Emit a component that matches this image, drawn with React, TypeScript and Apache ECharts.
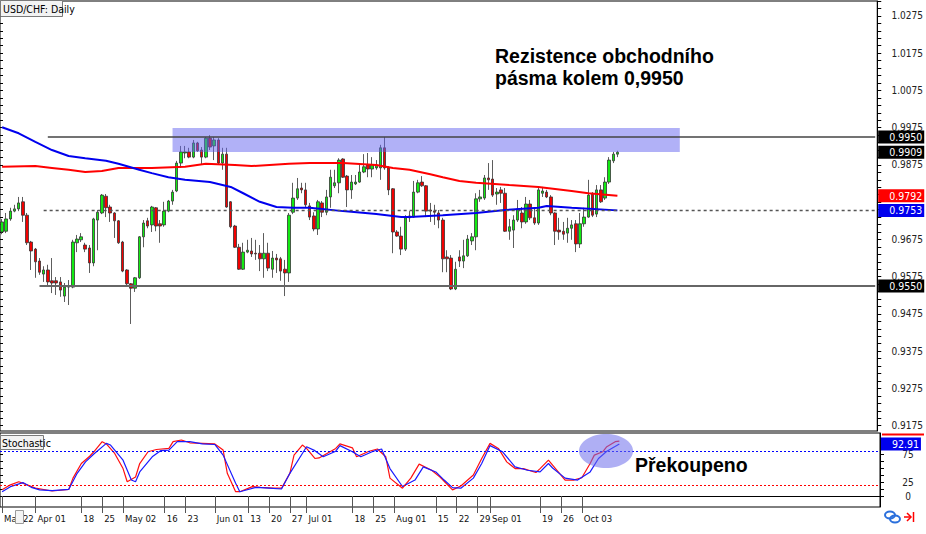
import React, { useEffect, useRef } from "react";
import * as echarts from "echarts";

// ---------- DATA ----------
const firstTradingDay = "2016-03-22";
const slotCount = 211; // trading-day slots visible on the x axis (incl. empty future space)

// [open, high, low, close]
const candles: [number, number, number, number][] = [
  [0.9695, 0.973, 0.9689, 0.9722], [0.9697, 0.9746, 0.9692, 0.973], [0.973, 0.976, 0.9725, 0.9751],
  [0.9751, 0.9768, 0.9748, 0.9757], [0.9757, 0.9789, 0.9751, 0.9773], [0.9776, 0.9789, 0.9722, 0.974],
  [0.974, 0.9746, 0.966, 0.9666], [0.9668, 0.9671, 0.9593, 0.9644], [0.9649, 0.9652, 0.9572, 0.9615],
  [0.9617, 0.9625, 0.958, 0.9587], [0.9582, 0.9603, 0.9561, 0.9593], [0.9593, 0.9607, 0.955, 0.9561],
  [0.9564, 0.9625, 0.9531, 0.9558], [0.9564, 0.9574, 0.9526, 0.9558], [0.9561, 0.9574, 0.9521, 0.9539],
  [0.9523, 0.9558, 0.9507, 0.9547], [0.9547, 0.9566, 0.9499, 0.955], [0.9547, 0.9674, 0.9544, 0.9668],
  [0.9666, 0.9687, 0.9641, 0.9676], [0.9674, 0.9692, 0.9668, 0.9682], [0.966, 0.9666, 0.9641, 0.9649],
  [0.9652, 0.966, 0.9585, 0.9612], [0.9612, 0.9733, 0.9603, 0.973], [0.9727, 0.9754, 0.9646, 0.9748],
  [0.9746, 0.9797, 0.9743, 0.9794], [0.9791, 0.9797, 0.9735, 0.976], [0.9762, 0.9768, 0.9722, 0.9746],
  [0.9746, 0.9748, 0.9679, 0.9725], [0.9725, 0.9727, 0.9663, 0.9666], [0.9668, 0.9671, 0.9587, 0.959],
  [0.9593, 0.9595, 0.9552, 0.9556], [0.9556, 0.9558, 0.9448, 0.9544], [0.9544, 0.9574, 0.9534, 0.9572],
  [0.9572, 0.9684, 0.9569, 0.9682], [0.9682, 0.9727, 0.9654, 0.9719], [0.9725, 0.9733, 0.9705, 0.9711],
  [0.9714, 0.9765, 0.9695, 0.9762], [0.976, 0.9762, 0.9697, 0.9711], [0.9717, 0.9727, 0.9666, 0.9711],
  [0.9714, 0.9776, 0.9709, 0.9751], [0.9751, 0.9781, 0.9748, 0.9778], [0.9778, 0.9808, 0.9768, 0.9802],
  [0.9805, 0.9886, 0.9802, 0.988], [0.988, 0.9926, 0.9867, 0.991], [0.9907, 0.9926, 0.9893, 0.991],
  [0.991, 0.9921, 0.9893, 0.9896], [0.9896, 0.9942, 0.9893, 0.9934], [0.9934, 0.9937, 0.991, 0.9913],
  [0.9915, 0.9923, 0.9875, 0.9896], [0.9896, 0.995, 0.9893, 0.9947], [0.9947, 0.9955, 0.9915, 0.9923],
  [0.9926, 0.995, 0.9888, 0.9942], [0.9942, 0.9947, 0.9875, 0.988], [0.988, 0.9921, 0.9862, 0.9904],
  [0.9904, 0.9921, 0.976, 0.9762], [0.9776, 0.9778, 0.9705, 0.9709], [0.9711, 0.9714, 0.9652, 0.9654],
  [0.9654, 0.9663, 0.9593, 0.9595], [0.9595, 0.9666, 0.9593, 0.9641], [0.9641, 0.9674, 0.9638, 0.9646],
  [0.9644, 0.9679, 0.9628, 0.9636], [0.9638, 0.9674, 0.962, 0.9636], [0.9638, 0.966, 0.959, 0.9623],
  [0.9623, 0.9692, 0.9572, 0.9638], [0.9638, 0.9666, 0.959, 0.9598], [0.9595, 0.9644, 0.9572, 0.9625],
  [0.9625, 0.9636, 0.9585, 0.962], [0.9623, 0.9628, 0.9564, 0.959], [0.9595, 0.962, 0.9523, 0.9585],
  [0.9585, 0.9746, 0.9561, 0.974], [0.9748, 0.9827, 0.9743, 0.9786], [0.9786, 0.984, 0.9781, 0.9811],
  [0.9813, 0.9827, 0.9799, 0.9808], [0.9808, 0.9827, 0.9762, 0.9768], [0.9765, 0.9773, 0.9727, 0.9735],
  [0.9738, 0.9748, 0.9697, 0.9703], [0.9703, 0.9781, 0.9687, 0.9776], [0.9773, 0.9778, 0.9735, 0.9748],
  [0.9748, 0.9808, 0.974, 0.9789], [0.9789, 0.9862, 0.976, 0.9842], [0.9819, 0.9862, 0.9813, 0.9827],
  [0.9827, 0.9893, 0.9799, 0.9888], [0.9891, 0.9893, 0.984, 0.9842], [0.9845, 0.9848, 0.9762, 0.9808],
  [0.9808, 0.9848, 0.9784, 0.9829], [0.9824, 0.9848, 0.9821, 0.9829], [0.9829, 0.9875, 0.9827, 0.9856],
  [0.9856, 0.9904, 0.9853, 0.987], [0.9875, 0.9907, 0.9842, 0.9864], [0.9864, 0.9896, 0.9842, 0.9875],
  [0.9867, 0.9888, 0.9862, 0.9875], [0.9867, 0.9929, 0.9835, 0.9921], [0.9921, 0.995, 0.9862, 0.9867],
  [0.9867, 0.9872, 0.9794, 0.9808], [0.9811, 0.9813, 0.9638, 0.9695], [0.9695, 0.97, 0.9682, 0.9684],
  [0.9684, 0.9709, 0.9633, 0.9649], [0.9649, 0.974, 0.9644, 0.9733], [0.9733, 0.9751, 0.9722, 0.9738],
  [0.9735, 0.9832, 0.9733, 0.9802], [0.9802, 0.9835, 0.9799, 0.9827], [0.9829, 0.9845, 0.9816, 0.9819],
  [0.9819, 0.9821, 0.9735, 0.9751], [0.9754, 0.9773, 0.9722, 0.9751], [0.9751, 0.9768, 0.9714, 0.9748],
  [0.9746, 0.9754, 0.9705, 0.9727], [0.9727, 0.9733, 0.9587, 0.9623], [0.9628, 0.9646, 0.9587, 0.9623],
  [0.9625, 0.9633, 0.9539, 0.9542], [0.9542, 0.9615, 0.9539, 0.9595], [0.9628, 0.9646, 0.9601, 0.9617],
  [0.9617, 0.9674, 0.9598, 0.9631], [0.9631, 0.9687, 0.9628, 0.9676], [0.9671, 0.9692, 0.966, 0.9682],
  [0.9682, 0.9799, 0.9646, 0.9784], [0.9784, 0.9808, 0.9776, 0.9789], [0.9786, 0.9848, 0.9781, 0.984],
  [0.984, 0.988, 0.9808, 0.9835], [0.9837, 0.9888, 0.9789, 0.9794], [0.9797, 0.9813, 0.9768, 0.9802],
  [0.9808, 0.9816, 0.9773, 0.9799], [0.9799, 0.9813, 0.9695, 0.9697], [0.9697, 0.973, 0.9674, 0.9709],
  [0.97, 0.974, 0.9652, 0.9727], [0.9727, 0.9781, 0.9722, 0.9757], [0.9746, 0.9762, 0.9705, 0.9722],
  [0.9722, 0.9789, 0.9717, 0.977], [0.977, 0.9781, 0.9727, 0.9733], [0.9733, 0.9762, 0.9714, 0.9719],
  [0.9719, 0.9816, 0.9714, 0.9808], [0.9799, 0.9816, 0.9789, 0.9805], [0.9802, 0.9808, 0.9786, 0.9789],
  [0.9789, 0.9794, 0.974, 0.9746], [0.9746, 0.9748, 0.966, 0.9697], [0.97, 0.9733, 0.9674, 0.9695],
  [0.9697, 0.9722, 0.9674, 0.9689], [0.9692, 0.9733, 0.9666, 0.9705], [0.9705, 0.9727, 0.9674, 0.9714],
  [0.9717, 0.9727, 0.9641, 0.9663], [0.9663, 0.9746, 0.9652, 0.9717], [0.9717, 0.976, 0.9709, 0.9735],
  [0.9735, 0.9835, 0.9733, 0.9794], [0.9797, 0.9802, 0.9735, 0.974], [0.9743, 0.9821, 0.9735, 0.9808],
  [0.9808, 0.9821, 0.9773, 0.9776], [0.9786, 0.9842, 0.9781, 0.9829], [0.9829, 0.9896, 0.9824, 0.9888],
  [0.9886, 0.991, 0.988, 0.9904], [0.9904, 0.9913, 0.9896, 0.9909],
];

// moving averages, read at sampled bars: [barIndex, value]
const redMA: [number, number][] = [
  [0, 0.987], [8, 0.9872], [12, 0.9867], [16, 0.9862], [20, 0.9856], [24, 0.9859], [28, 0.9867],
  [36, 0.9867], [44, 0.987], [49, 0.9878], [56, 0.9875], [60, 0.9872], [69, 0.9878], [74, 0.988],
  [82, 0.988], [90, 0.9875], [94, 0.9867], [98, 0.9862], [103, 0.985], [106, 0.9842], [110, 0.9832],
  [114, 0.9827], [122, 0.9821], [129, 0.9816], [137, 0.9805], [141, 0.9799], [148, 0.9792],
];
const blueMA: [number, number][] = [
  [0, 0.9976], [4, 0.996], [8, 0.9937], [12, 0.9915], [16, 0.9899], [20, 0.9893], [25, 0.9886],
  [28, 0.9878], [33, 0.9862], [36, 0.9853], [40, 0.9842], [44, 0.9835], [50, 0.9829], [55, 0.9816],
  [58, 0.9799], [62, 0.9776], [66, 0.9762], [70, 0.976], [74, 0.976], [82, 0.9751], [90, 0.9743],
  [96, 0.9735], [98, 0.9735], [106, 0.974], [114, 0.9746], [121, 0.9754], [129, 0.976], [131, 0.9765],
  [137, 0.976], [148, 0.9753],
];

// stochastic oscillator, read at sampled bars: [barIndex, value]
const stochMain: [number, number][] = [
  [0, 11], [2, 20], [4, 25.5], [6, 20], [8, 14], [12, 9], [16, 12], [17, 32], [19, 58], [21, 71],
  [22, 79], [24, 97], [25, 93], [27, 76], [29, 49], [30, 25.5], [32, 34], [33, 58], [35, 79], [37, 83],
  [40, 85], [41, 97], [43, 100], [45, 95], [48, 94], [51, 93], [53, 82], [54, 40.5], [56, 7.7], [57, 7.7],
  [60, 16.7], [62, 15.5], [65, 14], [67, 14], [69, 40.5], [70, 73], [72, 91], [73, 85], [75, 67], [76, 68],
  [80, 85], [81, 93], [84, 86], [85, 70], [88, 80], [90, 84], [92, 70], [93, 32], [96, 14], [98, 32],
  [100, 57], [103, 46], [105, 34], [108, 11], [110, 18], [113, 37.5], [115, 67], [117, 94], [119, 85],
  [121, 61], [123, 49], [125, 49], [128, 42], [129, 49], [131, 64], [132, 55], [135, 28.5], [137, 28.5],
  [139, 32.7], [141, 58], [142, 73], [144, 79], [145, 88], [147, 97], [148, 98],
];
const stochSignal: [number, number][] = [
  [0, 7.7], [2, 16.7], [5, 24], [7, 15.5], [9, 11], [12, 9.5], [16, 12], [18, 40.5], [20, 61], [22, 75],
  [25, 94], [26, 91], [29, 64], [31, 28.5], [32, 25.5], [33, 43], [36, 70], [38, 81], [40, 82], [42, 97],
  [45, 97], [48, 93], [51, 92], [53, 73], [56, 22.7], [57, 7.7], [61, 15.5], [64, 14], [67, 12.5],
  [69, 40.5], [72, 76], [73, 88], [75, 81], [77, 70], [80, 80], [81, 90], [84, 79], [86, 70], [89, 80],
  [91, 84], [93, 49], [96, 17], [99, 28.5], [101, 52], [104, 43], [106, 28.5], [108, 15], [110, 14],
  [113, 32], [115, 58], [117, 90], [120, 79], [123, 52], [126, 46], [129, 43], [131, 58], [132, 50],
  [135, 32], [138, 28.5], [141, 43], [143, 67], [145, 80], [148, 92.91],
];

// visible right-axis price labels (0.9775 is fully covered by the MA boxes in the original)
const priceTicks = [0.9175, 0.9275, 0.9375, 0.9475, 0.9575, 0.9675, 0.9875, 0.9975, 1.0075, 1.0175, 1.0275];
const stochLabelTicks = [0, 25, 75];
const stochMinorTicks = [0, 12.5, 25, 37.5, 50, 62.5, 75, 87.5, 100];
const stochLevels = { upper: 80, lower: 20 };

const dateTicks: [string, string][] = [
  ["2016-03-22", "Mar 22"], ["2016-04-01", "Apr 01"], ["2016-04-18", "18"], ["2016-04-25", "25"],
  ["2016-05-02", "May 02"], ["2016-05-16", "16"], ["2016-05-23", "23"], ["2016-06-01", "Jun 01"],
  ["2016-06-13", "13"], ["2016-06-20", "20"], ["2016-06-27", "27"], ["2016-07-01", "Jul 01"],
  ["2016-07-18", "18"], ["2016-07-25", "25"], ["2016-08-01", "Aug 01"], ["2016-08-15", "15"],
  ["2016-08-22", "22"], ["2016-08-29", "29"], ["2016-09-01", "Sep 01"], ["2016-09-19", "19"],
  ["2016-09-26", "26"], ["2016-10-03", "Oct 03"],
];

const resistanceLevel = 0.995;
const supportLevel = 0.955;
const dottedLevel = 0.9753;
const lastPrice = 0.9909;
const redMALast = 0.9792;
const blueMALast = 0.9753;
const zoneTop = 0.9974;
const zoneBottom = 0.991;
const zoneStartBar = 41;
const zoneEndBar = 163;
const resistanceStartBar = 11;
const supportStartBar = 9;
const dottedStartBar = 10;
const stochSignalLast = 92.91;

const annotationTitle = ["Rezistence obchodního", "pásma kolem 0,9950"];
const annotationStoch = "Překoupeno";

// ---------- HELPERS ----------
function tradingDays(start: string, n: number): string[] {
  const out: string[] = [];
  const d = new Date(start + "T00:00:00Z");
  while (out.length < n) {
    const wd = d.getUTCDay();
    if (wd !== 0 && wd !== 6) out.push(d.toISOString().slice(0, 10));
    d.setUTCDate(d.getUTCDate() + 1);
  }
  return out;
}

const FONT = "'Liberation Sans Narrow', 'DejaVu Sans Condensed', 'Liberation Sans', Arial, sans-serif";
const BOLD_FONT = "'Liberation Sans', Arial, sans-serif";
const PRICE_MIN = 0.91607;
const PRICE_MAX = 1.03151;

function buildOption() {
  const dates = tradingDays(firstTradingDay, slotCount);
  const labelMap: Record<string, string> = {};
  dateTicks.forEach(([d, l]) => (labelMap[d] = l));
  const showTick = (_i: number, v: string) => labelMap[v] !== undefined;

  const minorPriceTicks: number[] = [];
  for (let k = 0; k <= 57; k++) minorPriceTicks.push(+(0.9175 + k * 0.002).toFixed(4));

  const lastBar = slotCount - 1;

  const boxLabel = (text: string, bg: string) => ({
    show: true,
    position: "end" as const,
    distance: 3,
    formatter: text,
    color: "#fff",
    backgroundColor: bg,
    padding: [1, 2, 1, 11],
    fontSize: 10.5,
    lineHeight: 11,
    fontFamily: FONT,
  });

  const hiddenLine = { color: "rgba(0,0,0,0)", width: 0 };

  return {
    animation: false,
    backgroundColor: "#ffffff",
    grid: [
      { left: 0, right: 46, top: 1, height: 430, show: true, borderColor: "#000", borderWidth: 1, backgroundColor: "transparent" },
      { left: 0, right: 46, top: 433, height: 74, show: true, borderColor: "#000", borderWidth: 1, backgroundColor: "transparent" },
    ],
    xAxis: [
      {
        type: "category", gridIndex: 0, data: dates, boundaryGap: true,
        axisLine: { show: false }, axisTick: { show: false }, axisLabel: { show: false }, splitLine: { show: false },
      },
      {
        type: "category", gridIndex: 1, data: dates, boundaryGap: true,
        axisLine: { show: true, lineStyle: { color: "#000", width: 1 } },
        axisTick: { show: true, alignWithLabel: true, interval: showTick, length: 17, lineStyle: { color: "#555" } },
        axisLabel: {
          show: true, interval: showTick, formatter: (v: string) => labelMap[v] || "",
          align: "left", padding: [0, 0, 0, 2], margin: 6, fontSize: 9.5, color: "#111", fontFamily: FONT,
        },
        splitLine: { show: false },
      },
    ],
    yAxis: [
      {
        type: "value", gridIndex: 0, position: "right", min: PRICE_MIN, max: PRICE_MAX,
        axisLine: { show: true, lineStyle: { color: "#000" } },
        axisTick: { show: true, length: 4, lineStyle: { color: "#000" }, customValues: minorPriceTicks },
        axisLabel: {
          show: true, customValues: priceTicks, formatter: (v: number) => v.toFixed(4),
          margin: 30, align: "center", fontSize: 10, color: "#222", fontFamily: FONT,
        },
        splitLine: { show: false },
      },
      {
        type: "value", gridIndex: 0, position: "left", min: PRICE_MIN, max: PRICE_MAX,
        axisLine: { show: false },
        axisTick: { show: true, inside: true, length: 3, lineStyle: { color: "#000" }, customValues: minorPriceTicks },
        axisLabel: { show: false },
        splitLine: { show: false },
      },
      {
        type: "value", gridIndex: 1, position: "right", min: -19.6, max: 112.5,
        axisLine: { show: true, lineStyle: { color: "#000" } },
        axisTick: { show: true, length: 4, lineStyle: { color: "#000" }, customValues: stochMinorTicks },
        axisLabel: {
          show: true, customValues: stochLabelTicks, formatter: (v: number) => String(v),
          margin: 28, align: "center", fontSize: 10, color: "#222", fontFamily: FONT,
        },
        splitLine: { show: false },
      },
      {
        type: "value", gridIndex: 1, position: "left", min: -19.6, max: 112.5,
        axisLine: { show: false },
        axisTick: { show: true, inside: true, length: 3, lineStyle: { color: "#000" }, customValues: stochMinorTicks },
        axisLabel: { show: false },
        splitLine: { show: false },
      },
    ],
    series: [
      {
        name: "USD/CHF",
        type: "candlestick",
        xAxisIndex: 0, yAxisIndex: 0,
        data: candles.map(([o, h, l, c]) => [o, c, l, h]),
        barWidth: 3,
        z: 3,
        itemStyle: {
          color: "#12ea12", color0: "#f20000",
          borderColor: "#333", borderColor0: "#333", borderWidth: 0.8,
        },
      },
      {
        name: "MA red", type: "line", xAxisIndex: 0, yAxisIndex: 0, data: redMA,
        showSymbol: false, symbol: "none", z: 4, lineStyle: { color: "#ff0000", width: 2 },
      },
      {
        name: "MA blue", type: "line", xAxisIndex: 0, yAxisIndex: 0, data: blueMA,
        showSymbol: false, symbol: "none", z: 4, lineStyle: { color: "#0000ee", width: 2 },
      },
      {
        name: "levels", type: "line", xAxisIndex: 0, yAxisIndex: 0, data: [], z: 6,
        markArea: {
          silent: true, z: 10,
          itemStyle: { color: "rgba(100,100,240,0.5)", borderWidth: 0 },
          label: { show: false },
          data: [[{ coord: [zoneStartBar, zoneTop] }, { coord: [zoneEndBar, zoneBottom] }]],
        },
        markLine: {
          silent: true, symbol: ["none", "none"], z: 11,
          data: [
            [
              { coord: [resistanceStartBar, resistanceLevel], lineStyle: { color: "#444", width: 1.5, type: "solid" }, label: boxLabel("0.9950", "#000") },
              { coord: [lastBar, resistanceLevel] },
            ],
            [
              { coord: [supportStartBar, supportLevel], lineStyle: { color: "#666", width: 2, type: "solid" }, label: boxLabel("0.9550", "#000") },
              { coord: [lastBar, supportLevel] },
            ],
            [
              { coord: [lastBar - 1, lastPrice], lineStyle: hiddenLine, label: boxLabel("0.9909", "#000") },
              { coord: [lastBar, lastPrice] },
            ],
            [
              { coord: [lastBar - 1, redMALast], lineStyle: hiddenLine, label: boxLabel("0.9792", "#ff0000") },
              { coord: [lastBar, redMALast] },
            ],
            [
              { coord: [dottedStartBar, dottedLevel], lineStyle: { color: "#555", width: 1.3, type: [3, 3] }, label: boxLabel(blueMALast.toFixed(4), "#0000ee") },
              { coord: [lastBar, dottedLevel] },
            ],
          ],
        },
      },
      {
        name: "Stoch main", type: "line", xAxisIndex: 1, yAxisIndex: 2, data: stochMain,
        showSymbol: false, symbol: "none", z: 4, lineStyle: { color: "#ff1010", width: 1.2 },
      },
      {
        name: "Stoch signal", type: "line", xAxisIndex: 1, yAxisIndex: 2, data: stochSignal,
        showSymbol: false, symbol: "none", z: 5, lineStyle: { color: "#1a1aff", width: 1.2 },
        markLine: {
          silent: true, symbol: ["none", "none"], z: 6,
          data: [
            { yAxis: stochLevels.upper, lineStyle: { color: "#0000ff", width: 1, type: [2, 2] }, label: { show: false } },
            { yAxis: stochLevels.lower, lineStyle: { color: "#ff0000", width: 1, type: [2, 2] }, label: { show: false } },
            [
              { coord: [lastBar - 1, stochSignalLast], lineStyle: hiddenLine, label: boxLabel(stochSignalLast.toFixed(2), "#0000ee") },
              { coord: [lastBar, stochSignalLast] },
            ],
          ],
        },
      },
    ],
    graphic: [
      {
        type: "rect", z: 100, shape: { x: 0.5, y: 0.5, width: 62, height: 16 },
        style: { fill: "#f3f3f3", stroke: "#7a7a7a", lineWidth: 1 },
      },
      {
        type: "text", z: 101, x: 3, y: 9,
        style: { text: "USD/CHF: Daily", fontSize: 10.5, fontFamily: FONT, fill: "#000", verticalAlign: "middle" },
      },
      {
        type: "rect", z: 100, shape: { x: 0.5, y: 435.5, width: 43, height: 14 },
        style: { fill: "#f3f3f3", stroke: "#7a7a7a", lineWidth: 1 },
      },
      {
        type: "text", z: 101, x: 2, y: 443,
        style: { text: "Stochastic", fontSize: 10.5, fontFamily: FONT, fill: "#000", verticalAlign: "middle" },
      },
      {
        type: "text", z: 101, x: 495, y: 56,
        style: { text: annotationTitle[0], fontSize: 19.5, fontWeight: "bold", fontFamily: BOLD_FONT, fill: "#000", verticalAlign: "middle" },
      },
      {
        type: "text", z: 101, x: 495, y: 78,
        style: { text: annotationTitle[1], fontSize: 19.5, fontWeight: "bold", fontFamily: BOLD_FONT, fill: "#000", verticalAlign: "middle" },
      },
      {
        type: "ellipse", z: 100, shape: { cx: 606, cy: 451, rx: 27, ry: 17 },
        style: { fill: "rgba(110,110,235,0.55)" },
      },
      {
        type: "text", z: 101, x: 635, y: 465,
        style: { text: annotationStoch, fontSize: 19.5, fontWeight: "bold", fontFamily: BOLD_FONT, fill: "#000", verticalAlign: "middle" },
      },
      {
        type: "rect", z: 100, shape: { x: 15.5, y: 510.5, width: 8, height: 13 },
        style: { fill: "#f4f4f4", stroke: "#9a9a9a", lineWidth: 1 },
      },
      {
        type: "line", z: 100, shape: { x1: 882, y1: 434.5, x2: 924, y2: 434.5 },
        style: { stroke: "#ff0000", lineWidth: 2 },
      },
      {
        type: "ellipse", z: 100, shape: { cx: 890, cy: 515, rx: 5, ry: 3.5 },
        style: { fill: "none", stroke: "#2a6fdc", lineWidth: 2 },
      },
      {
        type: "ellipse", z: 100, shape: { cx: 895, cy: 519, rx: 5, ry: 3.5 },
        style: { fill: "none", stroke: "#2a6fdc", lineWidth: 2 },
      },
      {
        type: "line", z: 100, shape: { x1: 904, y1: 517, x2: 911, y2: 517 },
        style: { stroke: "#ff0000", lineWidth: 1.5 },
      },
      {
        type: "polyline", z: 100, shape: { points: [[907, 513], [911, 517], [907, 521]] },
        style: { fill: "none", stroke: "#ff0000", lineWidth: 1.5 },
      },
      {
        type: "line", z: 100, shape: { x1: 913.5, y1: 512, x2: 913.5, y2: 522 },
        style: { stroke: "#ff0000", lineWidth: 1.5 },
      },
    ],
  };
}

export default function App() {
  const ref = useRef<HTMLDivElement>(null);
  useEffect(() => {
    if (!ref.current) return;
    const chart = echarts.init(ref.current, undefined, { renderer: "svg" });
    chart.setOption(buildOption() as any);
    return () => chart.dispose();
  }, []);
  return (
    <div
      ref={ref}
      style={{ position: "fixed", left: 0, top: 0, width: 926, height: 534, background: "#fff" }}
    />
  );
}
